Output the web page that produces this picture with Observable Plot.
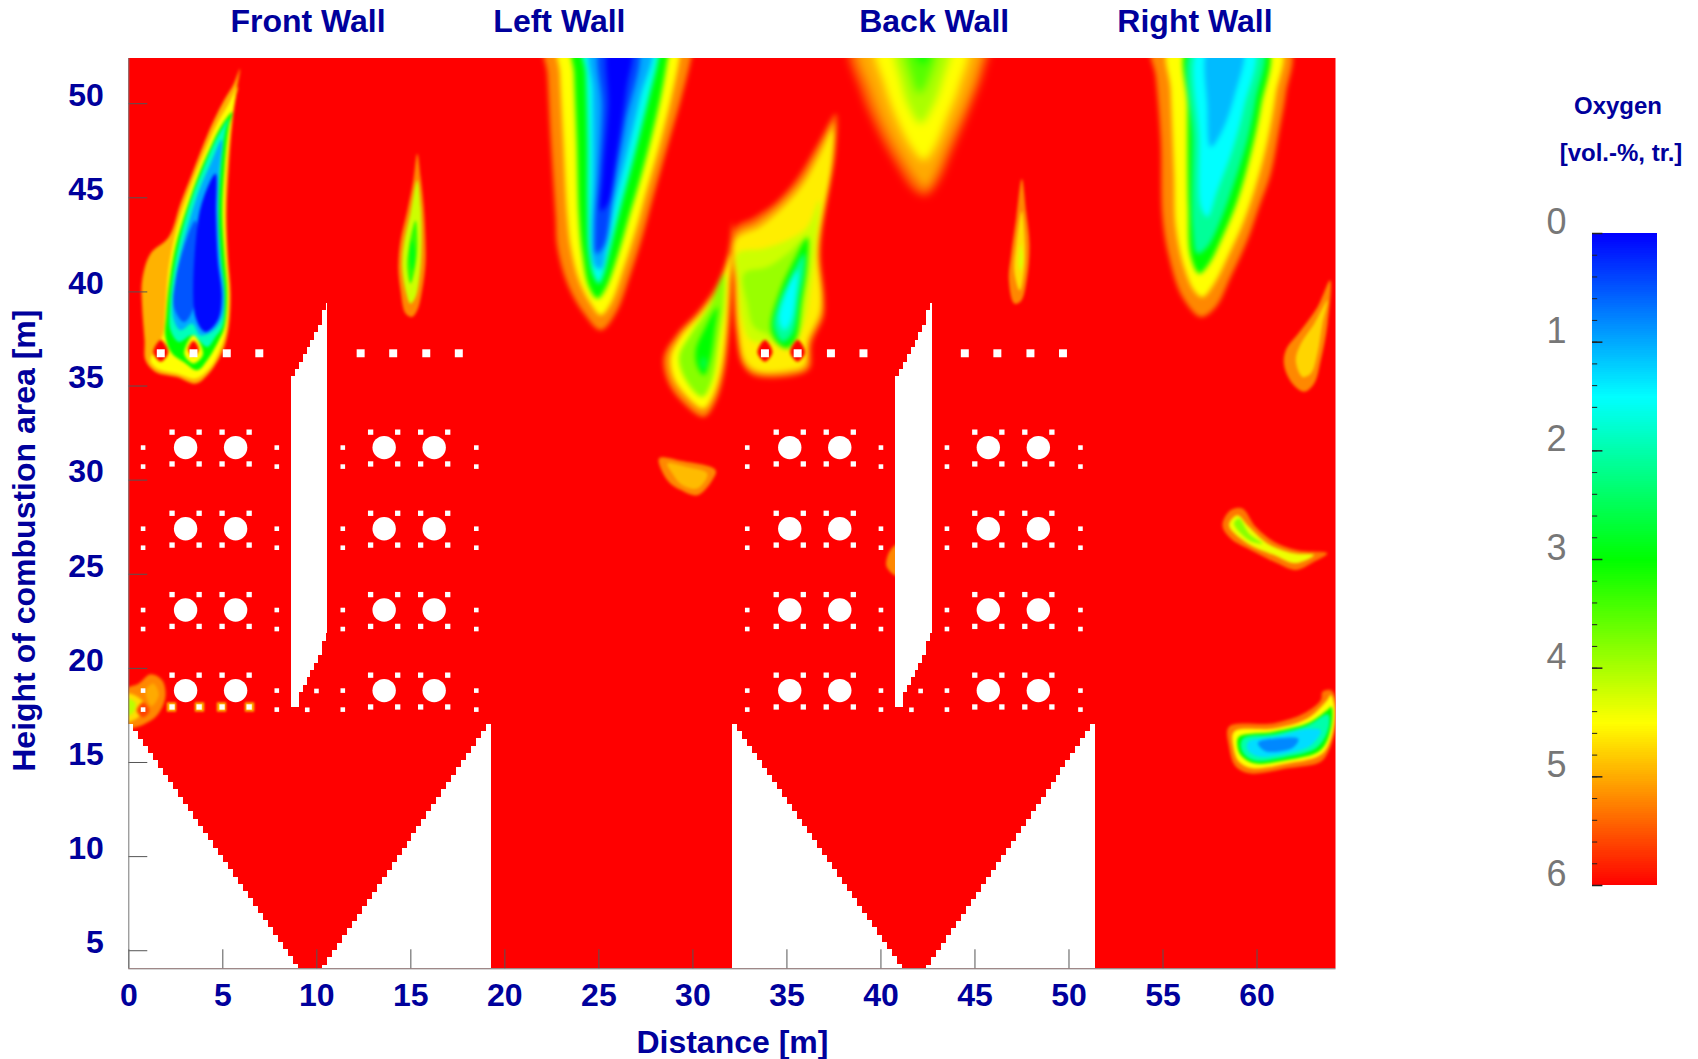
<!DOCTYPE html>
<html>
<head>
<meta charset="utf-8">
<script src="https://cdn.jsdelivr.net/npm/d3@7"></script>
<script src="https://cdn.jsdelivr.net/npm/@observablehq/plot@0.6"></script>
<style>
html,body{margin:0;padding:0;background:#fff;width:1698px;height:1059px;overflow:hidden}
#chart,#legend{position:absolute;left:0;top:0}
svg{display:block;background:transparent!important}
</style>
</head>
<body>
<div id="chart"></div>
<div id="legend"></div>
<script>
// ---- axis values
const xTicks = [0,5,10,15,20,25,30,35,40,45,50,55,60];
const yTicks = [5,10,15,20,25,30,35,40,45,50];
const wallNames = ["Front Wall","Left Wall","Back Wall","Right Wall"];
const wallLabelX = [9.53,22.9,42.83,56.7];
const o2Domain = [0,1.5,3,4.5,6];
const o2Colors = ["#0000ff","#00ffff","#00ff00","#ffff00","#ff0000"];
const legendMajor = [0,1,2,3,4,5,6];

// ---- O2 iso-rings: [level, [x,y, x,y, ...]]
const frontFlame = [
 [4.95,[5.91,51.86,5.59,51.06,5.06,50.17,4.52,49.11,3.99,47.87,3.37,46.28,2.75,44.69,2.13,42.92,1.15,42.03,0.71,40.62,0.71,39.2,0.84,37.43,0.89,36.37,1.42,35.75,2.57,35.48,3.55,35.13,4.17,35.57,4.97,36.81,5.29,37.96,5.41,39.91,5.27,41.85,5.2,44.16,5.32,46.63,5.5,48.94,5.76,50.88]],
 [4.5,[5.8,50.88,5.32,50.0,4.7,48.94,3.99,47.34,3.28,45.57,2.57,43.45,2.13,41.32,1.95,39.2,1.83,37.78,1.51,37.08,1.15,36.37,1.51,35.93,2.57,35.66,3.55,35.4,4.35,36.01,4.97,37.25,5.2,38.14,5.32,39.91,5.2,41.85,5.11,44.16,5.2,46.63,5.45,48.94,5.68,50.35]],
 [3,[5.5,49.55,4.88,48.76,4.35,47.7,3.73,46.28,3.1,44.51,2.48,42.39,2.13,40.26,1.99,38.67,1.95,37.61,2.31,36.72,2.93,36.28,3.64,35.84,4.17,36.37,4.79,37.43,5.09,38.14,5.23,39.91,5.09,41.85,4.97,44.16,5.09,46.63,5.32,48.76]],
 [1.9,[5.32,49.2,4.61,48.05,3.99,46.63,3.37,45.04,2.75,42.92,2.36,40.97,2.18,39.2,2.22,37.96,2.66,37.34,3.37,37.7,4.17,37.08,4.61,37.61,4.97,38.14,5.11,39.91,4.91,41.85,4.79,44.16,4.91,46.63,5.14,48.58]],
 [1,[4.95,48.1,4.35,46.81,3.81,45.57,3.28,43.98,2.75,42.03,2.43,40.26,2.36,38.67,2.75,37.96,3.37,38.32,3.81,37.7,4.52,37.96,4.97,38.67,5.07,39.91,4.84,41.85,4.75,44.16,4.8,46.28]],
 [0.5,[3.55,43.8,2.93,42.39,2.48,40.62,2.4,39.2,2.93,38.4,3.46,39.2]],
 [0.05,[4.61,46.28,3.99,45.04,3.64,43.45,3.55,38.67,4.08,37.87,4.74,38.49,4.95,39.73,4.74,41.68,4.64,44.16]],
 [4.5,[3.44,37.7,3.95,36.7,3.44,36.2,2.95,36.7]],
 [6,[1.7,37.45,2.1,36.8,1.7,36.3,1.3,36.8]],
 [6,[3.44,37.4,3.72,36.95,3.44,36.6,3.16,36.95]]
];
const frontSmall = [
 [5.2,[15.34,47.34,15.13,45.93,14.81,44.33,14.45,42.74,14.33,41.32,14.45,40.08,14.72,38.85,15.07,38.67,15.34,39.02,15.6,40.08,15.78,41.5,15.78,42.74,15.69,44.51,15.52,46.1]],
 [4.2,[15.34,45.93,14.98,44.16,14.63,42.56,14.54,41.32,14.72,40.08,14.98,39.38,15.25,39.73,15.48,40.97,15.57,42.56,15.52,44.51]],
 [3.3,[15.25,43.8,14.9,42.39,14.81,41.32,14.98,40.44,15.2,41.15,15.34,42.39]],
 [2.9,[15.07,42.74,14.95,41.85,15.07,41.15,15.21,42.03]]
];
const leftPlume = [
 [5.2,[22.17,53,22.26,51.59,22.44,48.05,22.7,43.98,22.79,42.39,23.32,40.44,24.21,38.85,25.1,37.96,25.89,38.85,26.69,40.97,27.31,42.92,27.84,44.86,28.64,47.7,29.35,50.17,29.88,52.3,29.97,53]],
 [4.5,[22.88,53,22.93,51.59,23.11,48.05,23.32,43.98,23.5,42.39,23.94,40.62,24.56,39.38,25.1,38.76,25.63,39.38,26.34,41.32,26.96,43.27,27.49,45.22,28.2,47.7,28.82,50.17,29.26,52.3,29.31,53]],
 [3,[23.64,53,23.68,51.59,23.82,48.05,23.94,43.98,24.12,42.03,24.47,40.26,24.92,39.64,25.36,40.17,25.98,41.85,26.6,43.98,27.13,45.75,27.75,48.05,28.29,50.35,28.64,52.3,28.73,53]],
 [1.6,[24.21,53,24.3,51.59,24.39,48.05,24.39,44.5,24.47,42.03,24.74,40.8,25,40.44,25.27,40.97,25.63,42.39,26.16,44.51,26.87,47.17,27.67,50.35,28.14,52.3,28.2,53]],
 [1,[24.6,53,24.68,50.7,24.7,46.28,24.62,42.74,24.78,41.4,25.1,41.2,25.4,42.39,25.8,44.51,26.45,47.17,27.2,50.35,27.75,53]],
 [0.4,[25.1,53,25.16,49.82,24.98,46.28,24.78,43.45,24.85,42.03,25.31,42.5,25.75,45.4,26.4,48.94,27.05,53]],
 [0,[25.55,53,25.5,49.82,25.2,46.28,25.1,44.3,25.55,44.8,25.95,47.17,26.45,50.7,26.7,53]]
];
const leftMid = [
 [5.2,[32.1,43.71,31.87,42.03,31.3,40.44,30.33,39.02,29.17,37.78,28.46,36.55,28.64,35.31,29.35,34.24,30.59,33.36,31.21,34.16,31.66,35.66,31.92,37.78,32.06,40.26]],
 [4.5,[32.01,42.03,31.48,40.44,30.5,38.93,29.35,37.61,28.82,36.55,28.96,35.48,29.62,34.51,30.56,33.8,31.03,34.42,31.48,35.84,31.74,37.78,31.92,40.26]],
 [3.8,[31.66,40.97,30.86,39.2,29.88,37.78,29.26,36.55,29.62,35.31,30.5,34.42,31.03,35.31,31.39,37.43,31.66,39.38]],
 [3,[31.3,39.2,30.68,38.14,30.15,36.9,30.24,36.01,30.59,35.57,30.91,36.37,31.16,37.96]],
 [2.6,[30.5,36.55,30.41,36.1,30.59,35.84,30.73,36.37]]
];
const leftLow = [
 [5.2,[28.2,31.15,29.35,31.03,31.21,30.53,31.03,30,30.24,29.2,29.35,29.47,28.64,30]],
 [4.9,[28.64,30.88,29.7,30.7,30.77,30.35,30.24,29.55,29.35,29.8,28.91,30.35]]
];
const backFlame = [
 [5.45,[32.19,43.36,33.25,43.98,34.49,44.86,35.56,46.1,36.62,47.87,37.6,49.47,37.6,47.52,37.24,45.4,36.89,43.27,36.8,41.85,37.01,39.73,36.97,38.67,36.35,37.25,36.23,35.92,35.38,35.52,33.25,35.52,32.63,36.1,32.28,37.78,32.15,40.44]],
 [5,[32.25,43.05,33.4,43.7,34.65,44.7,35.75,45.95,36.7,47.6,37.5,49,37.45,46.9,37.05,44.7,36.75,42.95,36.7,41.85,36.9,39.73,36.85,38.75,36.2,37.35,36.05,36,35.2,35.68,33.35,35.68,32.7,36.2,32.35,37.95,32.22,40.44]],
 [4.6,[32.28,42.74,33.6,43.45,34.85,44.51,35.91,45.75,36.8,47.34,37.42,48.58,37.33,46.28,36.89,43.98,36.62,42.03,36.8,39.73,36.71,38.85,36.09,37.43,35.91,36.1,35.02,35.84,33.43,35.84,32.81,36.37,32.45,38.14,32.33,40.44]],
 [4.2,[32.36,42.03,33.78,42.3,35.02,42.74,36.09,43.45,36.71,44.86,36.53,42.39,36.27,40.26,35.91,38.32,35.38,37.34,34.05,37.34,33.07,37.43,32.63,38.5,32.45,40.44]],
 [3.9,[32.72,40.97,33.96,41.32,35.02,42.03,35.91,42.74,36.09,41.85,35.82,40.26,35.38,37.96,34.85,37.34,33.96,37.78,33.25,38.14,32.9,39.38]],
 [3,[36.09,42.92,35.47,41.85,34.58,39.91,34.14,38.14,34.49,37.25,35.02,37,35.47,37.43,35.82,39.55,36.09,41.32]],
 [2.1,[35.91,42.03,35.29,40.97,34.49,39.2,34.31,38.14,34.76,37.34,35.29,37.78,35.65,39.73,35.91,41.15]],
 [1.5,[35.56,41.15,34.85,39.73,34.58,38.5,34.85,37.96,35.24,38.5,35.47,39.73]]
];
const backHalos = [
 [6,[33.83,37.45,34.23,36.8,33.83,36.3,33.43,36.8]],
 [6,[35.57,37.45,35.97,36.8,35.57,36.3,35.17,36.8]]
];
const backPlume = [
 [5.4,[38.39,53.2,38.92,50.7,39.81,48.58,40.79,46.81,41.76,45.4,42.38,45.13,43,45.75,43.8,47.52,44.77,49.82,45.48,51.77,45.66,53.2]],
 [5,[38.84,53.2,39.46,50.7,40.25,48.76,41.23,46.99,42.03,45.84,42.38,45.57,42.82,46.19,43.62,48.05,44.51,50,45.13,51.77,45.3,53.2]],
 [4.5,[39.72,53.2,40.16,51.06,40.87,49.11,41.67,47.61,42.29,46.99,42.82,47.61,43.53,49.29,44.15,50.88,44.56,53.2]],
 [4,[40.79,53.2,41.05,51.24,41.49,49.82,42.11,48.94,42.74,49.82,43.27,51.24,43.62,53.2]],
 [3.5,[41.32,53.2,41.58,51.59,42.03,50.53,42.5,51.24,42.91,53.2]],
 [3,[41.85,53.2,42.03,52.3,42.29,52.12,42.56,53.2]]
];
const backSmall = [
 [5.2,[47.49,46,47.2,43.98,46.92,41.97,46.8,40.65,47.09,39.38,47.44,39.5,47.78,40.82,47.9,42.55,47.72,44.27]],
 [4.7,[47.49,44.27,47.2,42.55,47.09,41.11,47.38,40.07,47.61,41.11,47.66,42.55]],
 [4.3,[47.43,42.55,47.32,41.4,47.43,41.11,47.55,41.69]]
];
const backSpot = [
 [5.2,[40.9,26.6,40.45,26.2,40.3,25.4,40.9,24.9]]
];
const rightPlume = [
 [5.2,[54.44,53,54.62,51.41,54.88,48.05,54.97,43.98,55.32,41.85,56.03,39.73,57.01,38.67,57.81,39.2,58.6,40.79,59.49,42.74,60.11,44.51,60.73,46.28,61.18,48.58,61.53,50.53,61.71,53]],
 [4.5,[55.32,53,55.41,50.7,55.59,46.28,55.68,43.45,56.12,41.32,56.65,40.08,57.1,39.73,57.72,40.44,58.52,42.03,59.31,43.8,60.02,45.93,60.56,48.05,61,50.53,61.26,53]],
 [3,[56.3,53,56.3,49.82,56.34,44.51,56.48,41.85,56.92,40.97,57.45,41.5,58.16,42.92,58.96,44.86,59.67,47.34,60.2,49.82,60.56,53]],
 [2.1,[56.57,53,56.57,48.05,56.57,43.45,56.83,42.03,57.36,42.39,58.07,43.8,58.78,45.75,59.49,48.05,59.93,50.17,60.29,53]],
 [1.5,[56.92,53,56.92,48.05,57.01,44.51,57.36,43.98,57.9,45.4,58.69,47.52,59.31,49.82,59.85,53]],
 [1.1,[57.45,53,57.36,49.82,57.54,47.7,58.07,48.4,58.78,50.35,59.23,53]]
];
const rightEdge = [
 [5.2,[63.89,40.62,63.22,39.2,62.33,37.96,61.53,36.9,61.44,36.1,61.88,35.13,62.51,34.69,63.04,35.13,63.39,36.37,63.75,38.3]],
 [4.75,[63.75,39.55,63.04,38.3,62.33,37.25,62.06,36.37,62.42,35.48,62.86,35.66,63.21,36.72,63.48,38.3]]
];
const rightStreak = [
 [5.3,[58.16,27.61,58.6,28.41,59.22,28.5,59.93,27.52,60.9,26.73,62.15,26.28,63.74,26.11,63.03,25.66,62.06,25.22,61.08,25.58,59.84,26.2,58.6,26.9]],
 [4.4,[58.51,27.61,58.95,28.14,59.57,27.52,60.55,26.64,61.97,26.11,63.03,26.02,62.06,25.58,60.9,26.02,59.49,26.64]],
 [3.8,[58.78,27.7,59.04,27.96,59.57,27.17,60.28,26.64,59.57,26.81]]
];
const rightPocket = [
 [5.3,[58.51,16.9,60.9,17.08,62.5,17.61,63.39,18.32,63.48,18.76,63.92,18.85,64.22,18.32,64.18,16.9,63.83,15.66,63.39,15.04,61.61,14.69,59.66,14.42,58.87,14.78,58.51,15.84]],
 [4.5,[58.78,16.64,60.9,16.81,62.68,17.34,63.74,18.32,63.92,18.58,64.13,17.96,64.06,16.73,63.65,15.66,63.21,15.31,61.61,14.95,59.75,14.69,59.04,15.04,58.74,15.84]],
 [3,[59.04,16.37,60.9,16.64,62.68,17.08,63.74,17.79,63.95,17.96,63.95,16.9,63.39,15.66,61.61,15.13,59.84,14.96,59.13,15.4,58.95,15.93]],
 [2,[59.3,16.32,60.9,16.52,62.68,16.97,63.78,17.55,63.8,16.8,63.2,15.8,61.61,15.3,59.84,15.1,59.25,15.52,59.13,15.98]],
 [1.3,[59.55,16.12,61.08,16.4,62.68,16.78,63.4,16.7,62.85,15.9,61.44,15.45,60.02,15.33,59.48,15.72]],
 [0.8,[60.05,16.05,61.26,16.3,62.2,16.25,61.9,15.78,60.45,15.6]]
];
const frontCorner = [
 [5.2,[-0.3,18.8,0.53,19.2,1.15,19.69,1.78,19.37,1.95,18.49,1.51,17.51,0.71,16.98,0,16.8,-0.3,16.8]],
 [5,[1.3,19.2,1.6,18.6,1.2,18,0.9,18.8]],
 [4.7,[0,18.66,0.45,18.49,0.8,18.13,0.62,17.51,0,17.16,-0.3,17.2,-0.3,18.6]],
 [4.1,[0,18.4,0.36,18.13,0.18,17.6,-0.3,17.5,-0.3,18.3]],
 [5.6,[0.76,18.2,1.1,17.75,0.76,17.4,0.42,17.75]]
];
// groups by softness of their gradients
const fineGroups = [frontFlame,frontSmall,leftLow,backSmall,backSpot,rightEdge,rightStreak,rightPocket,frontCorner,backHalos];
const midGroups = [leftPlume,rightPlume,leftMid,backFlame];
const wideGroups = [backPlume];

// ---- geometry of the walls (m)
const backWallShift = 32.13;
const wallShifts = [0,backWallShift];
const circleX = [3.02,5.68,13.58,16.24];
const nozzleRowY = [31.73,27.42,23.1,18.82];
const sideX = [0.76,7.87,11.38,18.48];
const burnerX = [1.7,3.44,5.21,6.94,12.33,14.06,15.82,17.55];
const burnerY = 36.74;
const portOffsetX = [-0.72,0.72];
const portOffsetY = [0.82,-0.87];
const sideOffsetY = [0,-1.01];
const extraPortX = [9.98,9.49];
const extraPortY = [18.8,17.8];
const glowX = [2.27,3.76,4.93,6.42];
const glowY = 17.95;
const hopperLeft = [0,17.2,9.05,4.04];
const hopperRight = [10.29,4.04,19.28,17.2];
const noseLeftX = 8.67, noseRightX = 10.59;
const noseTop = [8.67,35.3,10.59,39.2];
const noseBottom = [8.9,17.9,10.59,21.75];

const xDomain = [0,64.2];
const yDomain = [4.04,52.4];
const cellW = 0.265, cellH = 0.39;
const snap = v => Math.round(v/cellH)*cellH;
const along = ([x0,y0,x1,y1],x) => y0+(y1-y0)*(x-x0)/(x1-x0);

const toRows = (groups,tag) => groups.flat().flatMap(([o2,c],i) =>
  d3.range(0,c.length,2).map(k => ({ring:tag+i,o2,x:c[k],y:c[k+1]})));
const fineRows = toRows(fineGroups,"f");
const midRows = toRows(midGroups,"m");
const wideRows = toRows(wideGroups,"w");

const whiteCells = wallShifts.flatMap(s => {
  const out = [];
  for (const e of [hopperLeft,hopperRight])
    for (const x of d3.range(e[0],e[2],cellW)) {
      const x2 = Math.min(x+cellW,e[2]);
      out.push({x1:x+s,x2:x2+s,y1:yDomain[0],y2:Math.max(yDomain[0],along(e,(x+x2)/2))});
    }
  const w = cellW/1.3;
  for (const x of d3.range(noseLeftX,noseRightX-1e-6,w)) {
    const m = x+w/2;
    const lo = m<noseBottom[0] ? noseBottom[1] : snap(along(noseBottom,m));
    out.push({x1:x+s,x2:Math.min(x+w,noseRightX)+s,y1:lo,y2:snap(along(noseTop,m))});
  }
  return out;
});
const circles = wallShifts.flatMap(s => nozzleRowY.flatMap(y => circleX.map(x => ({x:x+s,y}))));
const ports = wallShifts.flatMap(s => nozzleRowY.flatMap(y => circleX.flatMap(x =>
  portOffsetX.flatMap(dx => portOffsetY.map(dy => ({x:x+dx+s,y:y+dy}))))));
const sidePorts = wallShifts.flatMap(s => nozzleRowY.flatMap(y => sideX.flatMap(x =>
  sideOffsetY.map(dy => ({x:x+s,y:y+dy})))).concat(extraPortX.map((x,i)=>({x:x+s,y:extraPortY[i]}))));
const burners = wallShifts.flatMap(s => burnerX.map(x => ({x:x+s,y:burnerY})));
const glows = glowX.map(x => ({x,y:glowY,o2:4.9}));

const navy = "#00009c";
const colorScale = {type:"linear",domain:o2Domain,range:o2Colors};
const ringLine = (rows,blur) => Plot.line(rows,{x:"x",y:"y",z:"ring",fill:"o2",stroke:"none",curve:"catmull-rom-closed",clip:true,imageFilter:`blur(${blur}px)`});

const main = Plot.plot({
  width:1698,height:1059,
  marginLeft:128.3,marginRight:362.5,marginTop:58,marginBottom:90.7,
  style:{fontFamily:"'Liberation Sans',Arial,sans-serif",background:"transparent"},
  x:{domain:xDomain,axis:null},
  y:{domain:yDomain,axis:null},
  color:colorScale,
  marks:[
    Plot.rect([6],{x1:()=>xDomain[0],x2:()=>xDomain[1],y1:()=>yDomain[0],y2:()=>yDomain[1],fill:d=>d}),
    ringLine(wideRows,4.5),
    ringLine(midRows,2.6),
    ringLine(fineRows,1.4),
    Plot.dot(glows,{x:"x",y:"y",fill:"o2",r:5.2,symbol:"square",imageFilter:"blur(1px)"}),
    Plot.rect(whiteCells,{x1:"x1",x2:"x2",y1:"y1",y2:"y2",fill:"white",shapeRendering:"crispEdges"}),
    Plot.dot(circles,{x:"x",y:"y",r:11.7,fill:"white"}),
    Plot.dot(ports,{x:"x",y:"y",r:3,symbol:"square",fill:"white"}),
    Plot.dot(sidePorts,{x:"x",y:"y",r:2.6,symbol:"square",fill:"white"}),
    Plot.dot(burners,{x:"x",y:"y",r:4.5,symbol:"square",fill:"white"}),
    Plot.ruleY(yTicks,{x1:()=>0,x2:()=>1.01,stroke:"#555",strokeWidth:1}),
    Plot.ruleX(xTicks,{y1:()=>yDomain[0],y2:()=>yDomain[0]+1.01,stroke:"#555",strokeWidth:1}),
    Plot.ruleX([0],{stroke:"#777",strokeWidth:1}),
    Plot.ruleY([yDomain[0]],{stroke:"#777",strokeWidth:1}),
    Plot.axisX(xTicks,{tickSize:0,tickPadding:14,label:null,fill:navy,fontSize:32,fontWeight:"bold"}),
    Plot.axisY(yTicks,{tickSize:0,tickPadding:25,label:null,fill:navy,fontSize:32,fontWeight:"bold",dy:-8}),
    Plot.text(wallNames,{x:(d,i)=>wallLabelX[i],frameAnchor:"top",dy:-37,fill:navy,fontSize:32,fontWeight:"bold",lineAnchor:"middle"}),
    Plot.text(["Distance [m]"],{frameAnchor:"bottom",dy:74,fill:navy,fontSize:32,fontWeight:"bold",lineAnchor:"middle"}),
    Plot.text(["Height of combustion area [m]"],{frameAnchor:"left",textAnchor:"middle",dx:-104,dy:27,rotate:-90,fill:navy,fontSize:32,fontWeight:"bold"})
  ]
});
document.getElementById("chart").append(main);

// ---- colour legend
const legendSteps = d3.range(0,6,0.02);
const legendMinor = d3.range(0,6.01,0.2);
const legend = Plot.plot({
  width:1698,height:1059,
  marginLeft:1592,marginRight:41,marginTop:233,marginBottom:174,
  style:{fontFamily:"'Liberation Sans',Arial,sans-serif",background:"transparent"},
  x:{domain:[0,1],axis:null},
  y:{domain:[6,0],axis:null},
  color:colorScale,
  marks:[
    Plot.rect(legendSteps,{x1:()=>0,x2:()=>1,y1:d=>d,y2:d=>d+0.02,fill:d=>d,shapeRendering:"crispEdges"}),
    Plot.ruleY(legendMinor,{x1:()=>0,x2:()=>0.08,stroke:"#222",strokeWidth:1}),
    Plot.ruleY(legendMajor,{x1:()=>0,x2:()=>0.16,stroke:"#222",strokeWidth:1.5}),
    Plot.axisY(legendMajor,{tickSize:0,tickPadding:26,label:null,fill:"#777",fontSize:36,dy:-11,tickFormat:"d"}),
    Plot.text(["Oxygen"],{frameAnchor:"top",dy:-127,dx:-7,fill:navy,fontSize:24,fontWeight:"bold",lineAnchor:"middle"}),
    Plot.text(["[vol.-%, tr.]"],{frameAnchor:"top",dy:-80,dx:-4,fill:navy,fontSize:24,fontWeight:"bold",lineAnchor:"middle"})
  ]
});
document.getElementById("legend").append(legend);
</script>
</body>
</html>
